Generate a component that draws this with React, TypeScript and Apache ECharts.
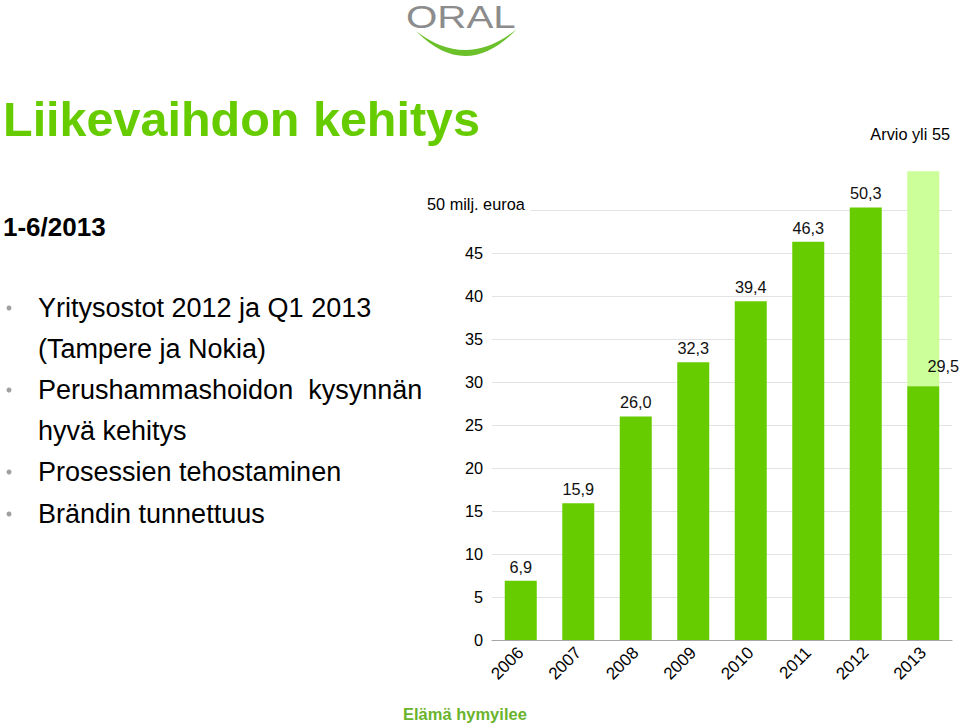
import React, { useEffect, useRef } from "react";
import * as echarts from "echarts";

const years = ["2006", "2007", "2008", "2009", "2010", "2011", "2012", "2013"];
const revenue = [6.9, 15.9, 26.0, 32.3, 39.4, 46.3, 50.3, 29.5];
const estimateExtra = [null, null, null, null, null, null, null, 25.0];
const yMin = 0;
const yMax = 50;
const yInterval = 5;
const titleText = "Liikevaihdon kehitys";
const periodText = "1-6/2013";
const bullets = [
  ["Yritysostot 2012 ja Q1 2013", "(Tampere ja Nokia)"],
  ["Perushammashoidon  kysynnän", "hyvä kehitys"],
  ["Prosessien tehostaminen"],
  ["Brändin tunnettuus"],
];
const unitLabel = "50 milj. euroa";
const estimateNote = "Arvio yli 55";
const footer = "Elämä hymyilee";

const FONT = "'Liberation Sans', Arial, Helvetica, sans-serif";
const GREEN = "#66cc00";
const LIGHT = "#ccff99";

let registered = false;

export default function App() {
  const ref = useRef<HTMLDivElement>(null);
  useEffect(() => {
    if (!ref.current) return;
    if (!registered) {
      echarts.graphic.registerShape(
        "logo",
        echarts.graphic.extendPath("M0 2 Q50 53 101 0 Q50 41 0 2 Z", {})
      );
      registered = true;
    }
    const chart = echarts.init(ref.current, undefined, { renderer: "svg" });

    const graphics: any[] = [];
    // logo
    graphics.push({
      type: "text",
      x: 406,
      y: 2,
      scaleX: 1.3,
      style: {
        text: "ORAL",
        fontSize: 31,
        lineHeight: 31,
        fontFamily: FONT,
        fill: "#8c8c8c",
        align: "left",
        verticalAlign: "top",
      },
    });
    graphics.push({
      type: "logo",
      x: 416,
      y: 29,
      style: { fill: "#6cc02a" },
    });
    // title
    graphics.push({
      type: "text",
      x: 3,
      y: 119,
      style: {
        text: titleText,
        fontSize: 48.5,
        fontWeight: "bold",
        fontFamily: FONT,
        fill: GREEN,
        align: "left",
        verticalAlign: "middle",
      },
    });
    graphics.push({
      type: "text",
      x: 3,
      y: 227,
      style: {
        text: periodText,
        fontSize: 26,
        fontWeight: "bold",
        fontFamily: FONT,
        fill: "#000",
        align: "left",
        verticalAlign: "middle",
      },
    });
    const lineYs = [308, 349, 390, 431, 472, 514];
    let li = 0;
    bullets.forEach((b) => {
      b.forEach((line, j) => {
        const y = lineYs[li++];
        if (j === 0) {
          graphics.push({
            type: "circle",
            shape: { cx: 9, cy: y, r: 2.5 },
            style: { fill: "#a0a0a0" },
          });
        }
        graphics.push({
          type: "text",
          x: 38,
          y,
          style: {
            text: line,
            fontSize: 27,
            fontFamily: FONT,
            fill: "#000",
            align: "left",
            verticalAlign: "middle",
          },
        });
      });
    });
    graphics.push({
      type: "text",
      x: 427,
      y: 204,
      z: 100,
      style: {
        text: unitLabel,
        fontSize: 16.3,
        fontFamily: FONT,
        fill: "#000",
        align: "left",
        verticalAlign: "middle",
        backgroundColor: "#ffffff",
        padding: [2, 6, 2, 0],
      },
    });
    graphics.push({
      type: "text",
      x: 950,
      y: 134,
      style: {
        text: estimateNote,
        fontSize: 16.3,
        fontFamily: FONT,
        fill: "#000",
        align: "right",
        verticalAlign: "middle",
      },
    });
    graphics.push({
      type: "text",
      x: 403,
      y: 714,
      style: {
        text: footer,
        fontSize: 16.5,
        fontWeight: "bold",
        fontFamily: FONT,
        fill: "#6ab42d",
        align: "left",
        verticalAlign: "middle",
      },
    });

    const fmt = (v: number) => v.toFixed(1).replace(".", ",");

    chart.setOption({
      animation: false,
      textStyle: { fontFamily: FONT },
      grid: { left: 492, right: 8, top: 210, bottom: 87, containLabel: false },
      xAxis: {
        type: "category",
        data: years,
        axisLine: { show: true, lineStyle: { color: "#a6a6a6", width: 1 } },
        axisTick: { show: false },
        axisLabel: {
          rotate: 45,
          fontSize: 17,
          color: "#000",
          fontFamily: FONT,
          margin: 10,
        },
      },
      yAxis: {
        type: "value",
        min: yMin,
        max: yMax,
        interval: yInterval,
        axisLine: { show: false },
        axisTick: { show: false },
        splitLine: { lineStyle: { color: "#e3e3e3", width: 1 } },
        axisLabel: {
          fontSize: 16.3,
          color: "#000",
          fontFamily: FONT,
          margin: 9,
          formatter: (v: number) => (v === yMax ? "" : String(v)),
        },
      },
      series: [
        {
          type: "bar",
          stack: "total",
          barWidth: 32,
          clip: false,
          itemStyle: { color: GREEN },
          label: {
            show: true,
            position: "top",
            fontSize: 16.3,
            color: "#111",
            fontFamily: FONT,
            distance: 6,
            formatter: (p: any) => fmt(p.value),
          },
          data: revenue.map((v, i) =>
            i === revenue.length - 1
              ? { value: v, label: { offset: [20, -6] } }
              : v
          ),
          z: 3,
        },
        {
          type: "bar",
          stack: "total",
          barWidth: 32,
          clip: false,
          itemStyle: { color: LIGHT },
          label: { show: false },
          data: estimateExtra,
          z: 2,
        },
      ],
      graphic: graphics,
    });
    return () => chart.dispose();
  }, []);
  return (
    <div
      ref={ref}
      style={{ position: "absolute", left: 0, top: 0, width: 960, height: 727 }}
    />
  );
}
